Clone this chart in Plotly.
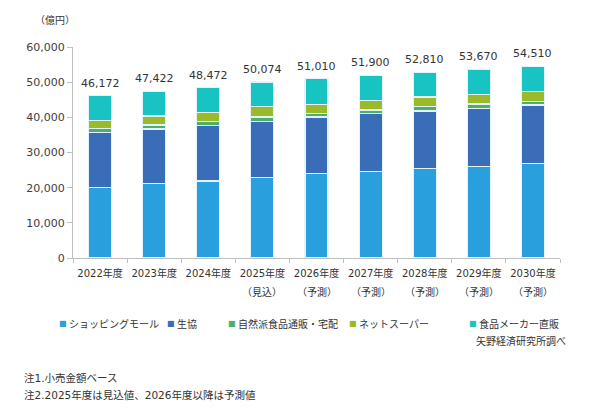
import plotly.graph_objects as go

categories = ["2022年度", "2023年度", "2024年度", "2025年度", "2026年度",
              "2027年度", "2028年度", "2029年度", "2030年度"]
sublabels = ["", "", "", "（見込）", "（予測）", "（予測）", "（予測）", "（予測）", "（予測）"]
shopping = [20100, 21100, 21900, 23000, 24100, 24700, 25500, 26100, 26900]
coop = [15500, 15600, 15700, 15900, 16000, 16300, 16300, 16400, 16600]
natural = [1200, 1100, 1200, 1200, 1100, 1100, 1200, 1300, 1100]
netsuper = [2400, 2600, 2600, 2900, 2400, 2700, 2800, 2700, 2800]
maker = [6970, 7020, 7070, 7070, 7410, 7100, 7010, 7170, 7110]
totals = [46172, 47422, 48472, 50074, 51010, 51900, 52810, 53670, 54510]

series_names = ["ショッピングモール", "生協", "自然派食品通販・宅配", "ネットスーパー", "食品メーカー直販"]
series_values = [shopping, coop, natural, netsuper, maker]
colors = ["#2a9fdd", "#3a6db7", "#4caf6c", "#9aba2a", "#17c3c3"]

FONT_NUM = "DejaVu Sans, Noto Sans CJK JP, sans-serif"
FONT_JP = "Noto Sans CJK JP, DejaVu Sans, sans-serif"

W, H = 600, 409
X0, X1, YB, YT = 73, 560, 258, 47


def px_x(x):
    return (x - X0) / (X1 - X0)


def px_y(y):
    return (YB - y) / (YB - YT)


fig = go.Figure()
for name, vals, col in zip(series_names, series_values, colors):
    fig.add_trace(go.Bar(
        x=categories, y=vals, name=name,
        marker=dict(color=col, line=dict(color="#e3f2fb", width=1.2)),
        showlegend=False, hoverinfo="skip",
    ))

annotations = []
for cat, tot in zip(categories, totals):
    annotations.append(dict(
        x=cat, y=tot, xref="x", yref="y", text=f"{tot:,}", showarrow=False,
        yanchor="middle", yshift=12.5,
        font=dict(family=FONT_NUM, size=11, color="#333333"),
    ))

# second line of the category labels
for cat, sub in zip(categories, sublabels):
    if sub:
        annotations.append(dict(
            x=cat, y=px_y(291), xref="x", yref="paper", text=sub, showarrow=False,
            xanchor="center", yanchor="middle",
            font=dict(family=FONT_JP, size=10, color="#333333"),
        ))

# unit label
annotations.append(dict(x=px_x(55), y=px_y(20), xref="paper", yref="paper", text="（億円）",
                        showarrow=False, xanchor="center", yanchor="middle",
                        font=dict(family=FONT_JP, size=10, color="#333333")))

# legend (square + text)
legend_sq_x = [63.3, 171, 232, 353, 473]
legend_y = 323
for name, col, sx in zip(series_names, colors, legend_sq_x):
    annotations.append(dict(x=px_x(sx), y=px_y(legend_y), xref="paper", yref="paper", text="■",
                            showarrow=False, xanchor="center", yanchor="middle",
                            font=dict(family="DejaVu Sans", size=8, color=col)))
    annotations.append(dict(x=px_x(sx + 4), y=px_y(legend_y), xref="paper", yref="paper", text=name,
                            showarrow=False, xanchor="left", yanchor="middle",
                            font=dict(family=FONT_JP, size=10, color="#333333")))

annotations.append(dict(x=px_x(474), y=px_y(340), xref="paper", yref="paper", text="矢野経済研究所調べ",
                        showarrow=False, xanchor="left", yanchor="middle",
                        font=dict(family=FONT_JP, size=10, color="#333333")))
annotations.append(dict(x=px_x(22), y=px_y(378), xref="paper", yref="paper", text="注1.小売金額ベース",
                        showarrow=False, xanchor="left", yanchor="middle",
                        font=dict(family=FONT_NUM, size=10.5, color="#333333")))
annotations.append(dict(x=px_x(22), y=px_y(395), xref="paper", yref="paper",
                        text="注2.2025年度は見込値、2026年度以降は予測値",
                        showarrow=False, xanchor="left", yanchor="middle",
                        font=dict(family=FONT_NUM, size=10.5, color="#333333")))

fig.update_layout(
    width=W, height=H,
    margin=dict(l=X0, r=W - X1, t=YT, b=H - YB, pad=0),
    barmode="stack", bargap=0.575,
    plot_bgcolor="white", paper_bgcolor="white",
    annotations=annotations,
    xaxis=dict(
        showline=True, linecolor="#bfbfbf", linewidth=1,
        ticks="outside", tickson="boundaries", ticklen=4, tickcolor="#bfbfbf",
        tickangle=0, ticklabelstandoff=6,
        tickfont=dict(family=FONT_NUM, size=10, color="#333333"),
        showgrid=False, fixedrange=True,
    ),
    yaxis=dict(
        range=[0, 60000], dtick=10000, tickformat=",",
        showline=True, linecolor="#bfbfbf", linewidth=1,
        ticks="outside", ticklen=5, tickcolor="#bfbfbf",
        tickfont=dict(family=FONT_NUM, size=11, color="#404040"),
        showgrid=False, zeroline=False, fixedrange=True,
    ),
)

fig.write_html("out.html")
